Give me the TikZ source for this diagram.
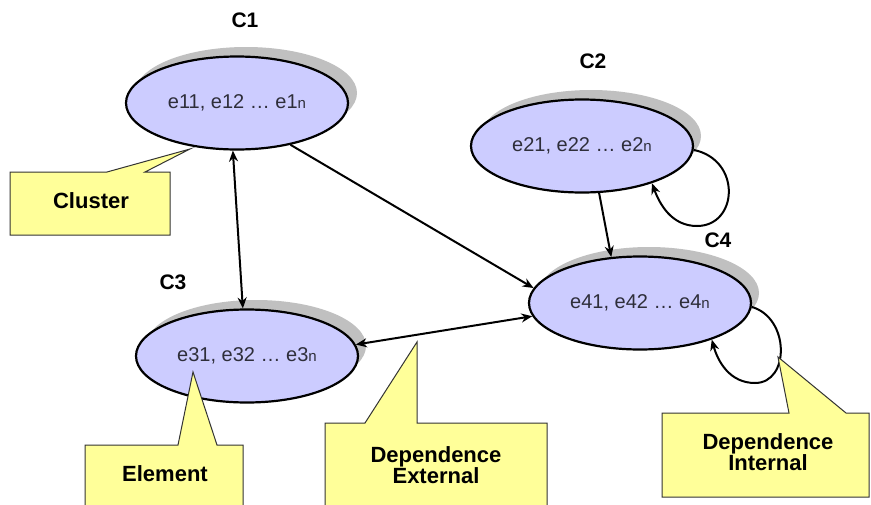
\documentclass[tikz,border=0pt]{standalone}
\usepackage{fontspec}
\setmainfont{Liberation Sans}
\usetikzlibrary{arrows.meta,shapes.geometric}
\definecolor{clusterfill}{HTML}{CCCCFF}
\definecolor{shadowgray}{HTML}{C0C0C0}
\definecolor{notefill}{HTML}{FFFF99}
\definecolor{elemtext}{HTML}{2E2E3A}
\tikzset{
  x=1pt, y=-1pt,
  cluster/.style={ellipse, draw=black, line width=2.2pt, fill=clusterfill,
    minimum width=222pt, minimum height=93pt, inner sep=0pt,
    font=\fontsize{20}{22}\selectfont, text=elemtext},
  shade/.style={fill=shadowgray, draw=none},
  tag/.style={font=\bfseries\fontsize{21}{22}\selectfont},
  arr/.style={line width=2pt, -{Stealth[length=11pt,width=9pt]}},
  biarr/.style={line width=2pt, {Stealth[length=11pt,width=9pt]}-{Stealth[length=11pt,width=9pt]}},
  note/.style={fill=notefill, draw=black!80, line width=1pt, line join=miter},
  notetext/.style={font=\bfseries\fontsize{22}{19}\selectfont, align=center, inner sep=0pt}
}
\newcommand{\elems}[1]{e#11, e#12 \ldots\ e#1{\fontsize{15}{16}\selectfont n}}
\begin{document}
\begin{tikzpicture}
\clip (0,0) rectangle (871,504);
\fill[white] (0,0) rectangle (871,504);

% drop shadows behind the clusters
\fill[shade] (246,93) ellipse [x radius=111pt, y radius=46pt];
\fill[shade] (591,136) ellipse [x radius=110pt, y radius=46pt];
\fill[shade] (256,346) ellipse [x radius=110pt, y radius=46pt];
\fill[shade] (649,293) ellipse [x radius=110pt, y radius=46pt];

% clusters
\node[cluster] (c1) at (237,103) {\elems{1}};
\node[cluster] (c2) at (582,146) {\elems{2}};
\node[cluster] (c3) at (247,356) {\elems{3}};
\node[cluster] (c4) at (640,303) {\elems{4}};

% cluster names
\node[tag] (t1) at (245,20) {C1};
\node[tag] (t2) at (593,61) {C2};
\node[tag] (t3) at (173,282) {C3};
\node[tag] (t4) at (718,240) {C4};

% dependences between clusters
\draw[biarr] (c1.-95) -- (c3.95);
\draw[arr] (c1.-38) -- (c4.172);
\draw[arr] (c2.-70) -- (c4.122);
\draw[biarr] (c3.6) -- (c4.-173);

% inner dependences (self loops)
\draw[arr] (c2.-2) .. controls (742,160) and (738,226) .. (697,226)
  .. controls (672,226) and (660,205) .. (c2.-28);
\draw[arr] (c4.-2) .. controls (790,318) and (790,383) .. (755,383)
  .. controls (730,383) and (718,362) .. (c4.-27);

% callouts
\draw[note] (10,172) -- (107,172) -- (190,149) -- (145,172) -- (170,172)
  -- (170,235) -- (10,235) -- cycle;
\node[notetext] (n1) at (91,201) {Cluster};

\draw[note] (85,445) -- (178,445) -- (193,372) -- (217,445) -- (243,445)
  -- (243,512) -- (85,512) -- cycle;
\node[notetext] (n2) at (165,474) {Element};

\draw[note] (325,423) -- (365,423) -- (417,342) -- (417,423) -- (547,423)
  -- (547,512) -- (325,512) -- cycle;
\node[notetext] (n3) at (436,465) {Dependence\\External};

\draw[note] (662,413) -- (789,413) -- (778,357) -- (846,413) -- (869,413)
  -- (869,497) -- (662,497) -- cycle;
\node[notetext] (n4) at (768,452) {Dependence\\Internal};
\end{tikzpicture}
\end{document}
